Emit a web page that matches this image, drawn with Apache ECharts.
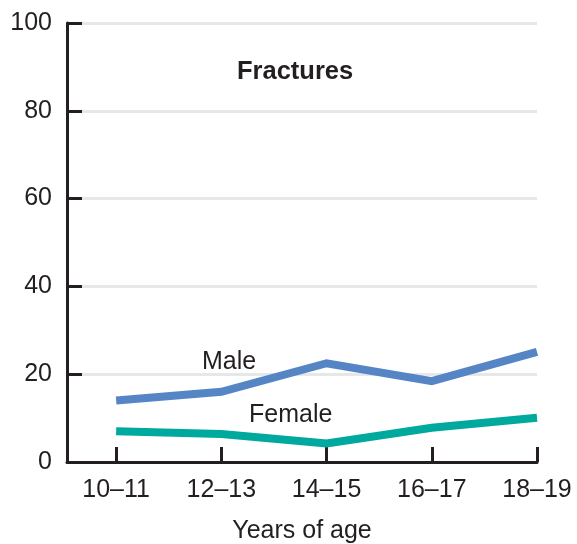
<!DOCTYPE html>
<html>
<head>
<meta charset="utf-8">
<script src="https://cdn.jsdelivr.net/npm/echarts@6/dist/echarts.min.js"></script>
<style>
  html, body { margin: 0; padding: 0; background: #fff; }
  #chart { width: 577px; height: 544px; }
</style>
</head>
<body>
<div id="chart"></div>
<script>
// 数据
const ageGroups = ['10–11', '12–13', '14–15', '16–17', '18–19'];
const maleValues = [14.0, 16.0, 22.5, 18.4, 25.1];
const femaleValues = [7.0, 6.4, 4.2, 7.8, 10.1];
const yTicks = [0, 20, 40, 60, 80, 100];

const ink = '#231f20';
const font = 'Liberation Sans, Arial, Helvetica, sans-serif';
const idx = ageGroups.map((_, i) => i);

const toPairs = (vals) => vals.map((v, i) => [i, v]);

const chart = echarts.init(document.getElementById('chart'));
const option = {
  animation: false,
  grid: { left: 67, right: 40, top: 23, bottom: 82, containLabel: false, outerBoundsMode: 'none' },
  xAxis: {
    type: 'value',
    min: -0.467,
    max: 4,
    name: 'Years of age',
    nameLocation: 'middle',
    nameGap: 57,
    nameTextStyle: { color: ink, fontSize: 25, fontFamily: font },
    axisLine: { show: true, onZero: false, lineStyle: { color: ink, width: 3 } },
    axisTick: {
      show: true,
      inside: true,
      length: 15,
      lineStyle: { color: ink, width: 3 },
      customValues: idx
    },
    axisLabel: {
      color: ink,
      fontSize: 25,
      fontFamily: font,
      margin: 16,
      customValues: idx,
      formatter: (v) => ageGroups[Math.round(v)]
    },
    splitLine: { show: false }
  },
  yAxis: {
    type: 'value',
    min: 0,
    max: 100,
    interval: 20,
    axisLine: { show: true, onZero: false, lineStyle: { color: ink, width: 3 } },
    axisTick: { show: true, inside: true, length: 15, lineStyle: { color: ink, width: 3 } },
    axisLabel: {
      color: ink,
      fontSize: 25,
      fontFamily: font,
      margin: 15,
      formatter: (v) => (yTicks.includes(v) ? String(v) : '')
    },
    splitLine: { show: true, lineStyle: { color: '#e6e7e8', width: 3 } }
  },
  graphic: [
    {
      type: 'text',
      left: 237, top: 59, z: 100,
      style: { text: 'Fractures', fill: ink, font: 'bold 25.5px ' + font }
    },
    {
      type: 'text',
      left: 202, top: 350, z: 100,
      style: { text: 'Male', fill: ink, font: '25px ' + font }
    },
    {
      type: 'text',
      left: 249, top: 403, z: 100,
      style: { text: 'Female', fill: ink, font: '25px ' + font }
    }
  ],
  series: [
    {
      name: 'Male',
      type: 'line',
      data: toPairs(maleValues),
      symbol: 'none',
      lineStyle: { color: '#5585c5', width: 8, cap: 'butt', join: 'miter' },
      z: 3
    },
    {
      name: 'Female',
      type: 'line',
      data: toPairs(femaleValues),
      symbol: 'none',
      lineStyle: { color: '#00a99d', width: 8, cap: 'butt', join: 'miter' },
      z: 3
    }
  ]
};
chart.setOption(option, true);
</script>
</body>
</html>
